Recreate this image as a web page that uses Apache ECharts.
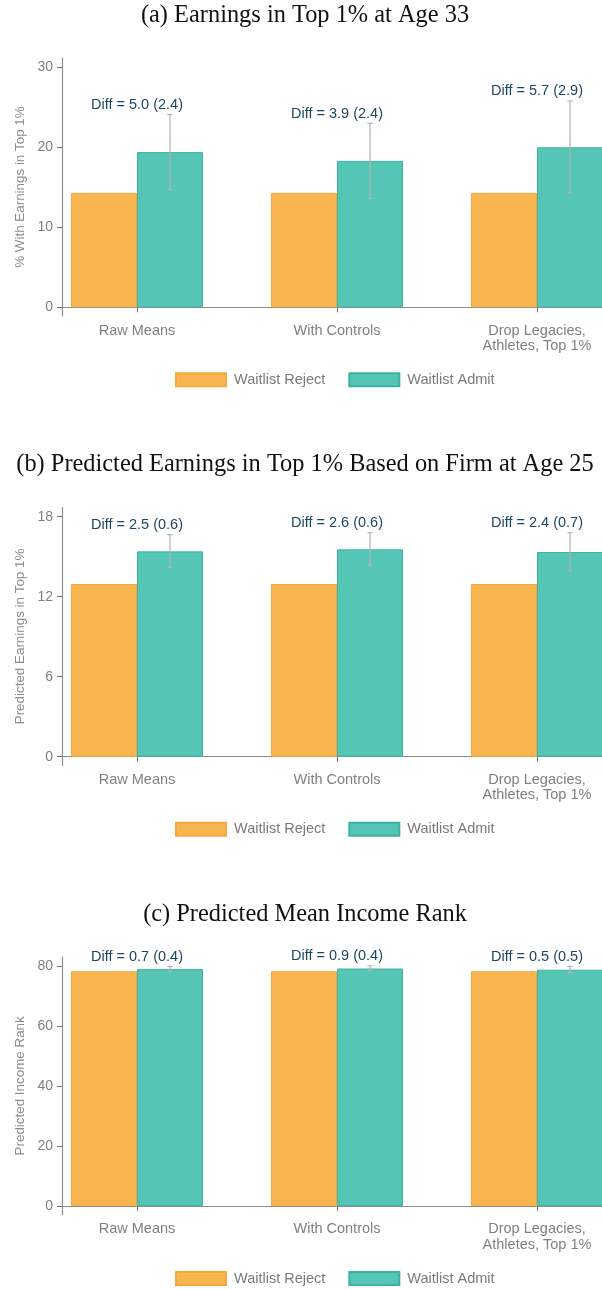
<!DOCTYPE html>
<html>
<head>
<meta charset="utf-8">
<script src="https://cdn.jsdelivr.net/npm/echarts@6/dist/echarts.min.js"></script>
<style>
  html, body { margin: 0; padding: 0; background: #fff; }
  #main { width: 602px; height: 1289px; }
</style>
</head>
<body>
<div id="main"></div>
<script>
// data
var categories = ['Raw Means', 'With Controls', 'Drop Legacies,\nAthletes, Top 1%'];
var groupNames = ['Waitlist Reject', 'Waitlist Admit'];
var panelTitles = [
  '(a) Earnings in Top 1% at Age 33',
  '(b) Predicted Earnings in Top 1% Based on Firm at Age 25',
  '(c) Predicted Mean Income Rank'
];
var yNames = ['% With Earnings in Top 1%', 'Predicted Earnings in Top 1%', 'Predicted Income Rank'];
var yTicks = [[0, 10, 20, 30], [0, 6, 12, 18], [0, 20, 40, 60, 80]];

// (a)
var rejectA = [14.3, 14.3, 14.3];
var admitA = [19.4, 18.3, 20.0];
var ciLowA = [14.7, 13.6, 14.3];
var ciHighA = [24.1, 23.0, 25.8];
var diffA = ['Diff = 5.0 (2.4)', 'Diff = 3.9 (2.4)', 'Diff = 5.7 (2.9)'];
// (b)
var rejectB = [12.95, 12.95, 12.95];
var admitB = [15.4, 15.55, 15.35];
var ciLowB = [14.2, 14.35, 13.95];
var ciHighB = [16.65, 16.8, 16.8];
var diffB = ['Diff = 2.5 (0.6)', 'Diff = 2.6 (0.6)', 'Diff = 2.4 (0.7)'];
// (c)
var rejectC = [78.3, 78.3, 78.3];
var admitC = [79.0, 79.2, 78.8];
var ciLowC = [78.3, 78.5, 77.8];
var ciHighC = [79.9, 80.1, 79.9];
var diffC = ['Diff = 0.7 (0.4)', 'Diff = 0.9 (0.4)', 'Diff = 0.5 (0.5)'];

var rejects = [rejectA, rejectB, rejectC];
var admits = [admitA, admitB, admitC];
var ciLows = [ciLowA, ciLowB, ciLowC];
var ciHighs = [ciHighA, ciHighB, ciHighC];
var diffs = [diffA, diffB, diffC];

// layout
var PANEL_H = 449.4;
var BAR_W = 66;
var PLOT_H = 240;          // zero line to top tick
var PAD_TOP = 9, PAD_BOT = 8.5;
var FONT = '"Liberation Sans", Arial, Helvetica, sans-serif';
var ORANGE = '#f9b550', ORANGE_B = '#f5a93a';
var TEAL = '#55c5b6', TEAL_B = '#3bb3a1';
var GREY = '#808080';

var myChart = echarts.init(document.getElementById('main'), null, {renderer: 'canvas'});

var titles = [], grids = [], xAxes = [], yAxes = [], legends = [], series = [];

function xyPairs(vals) {
  return vals.map(function (v, i) { return [i + 1, v]; });
}

function errRender(k) {
  return function (params, api) {
    var i = params.dataIndex;
    var x = api.value(0);
    var top = api.coord([x, api.value(2)]);
    var bot = api.coord([x, api.value(1)]);
    var ex = top[0] + BAR_W / 2;
    var cap = 2.7;
    var st = {stroke: '#b3b3b3', lineWidth: 1.2};
    return {
      type: 'group',
      children: [
        {type: 'line', shape: {x1: ex, y1: top[1], x2: ex, y2: bot[1]}, style: st},
        {type: 'line', shape: {x1: ex - cap, y1: top[1], x2: ex + cap, y2: top[1]}, style: st},
        {type: 'line', shape: {x1: ex - cap, y1: bot[1], x2: ex + cap, y2: bot[1]}, style: st},
        {type: 'text', x: top[0], y: top[1] - 9.5,
          style: {text: diffs[k][i], fill: '#1d4760', font: '14.5px ' + FONT,
            align: 'center', verticalAlign: 'middle'}}
      ]
    };
  };
}

for (var k = 0; k < 3; k++) {
  var off = PANEL_H * k;
  var ticks = yTicks[k];
  var topVal = ticks[ticks.length - 1];
  var ppu = PLOT_H / topVal;

  titles.push({
    text: panelTitles[k],
    left: 300, textAlign: 'center',
    top: off - 1.5,
    textStyle: {fontFamily: '"Liberation Serif", "Times New Roman", serif', fontWeight: 'normal', fontSize: 24.4, color: '#111'}
  });

  // 200 px per category, axis runs from x=62 to the right edge
  grids.push({left: 62, right: 0, top: off + 67.3 - PAD_TOP, height: PLOT_H + PAD_TOP + PAD_BOT});

  xAxes.push({
    type: 'value', gridIndex: k, min: 0.625, max: 3.325,
    splitLine: {show: false},
    axisLine: {show: true, lineStyle: {color: '#8c8c8c', width: 1.2}},
    axisTick: {show: true, length: 5, customValues: [1, 2, 3], lineStyle: {color: '#6f6f6f'}},
    axisLabel: {
      customValues: [1, 2, 3], margin: 7, color: GREY, fontSize: 14.5, fontFamily: FONT, lineHeight: 15.5,
      formatter: function (v) { return categories[Math.round(v) - 1]; }
    }
  });

  yAxes.push({
    type: 'value', gridIndex: k,
    min: -PAD_BOT / ppu, max: topVal + PAD_TOP / ppu,
    name: yNames[k], nameLocation: 'middle', nameGap: 34,
    nameTextStyle: {color: '#8c8c8c', fontSize: 13.4, fontFamily: FONT},
    splitLine: {show: false},
    axisLine: {show: true, lineStyle: {color: '#8c8c8c', width: 1.2}},
    axisTick: {show: true, length: 5, customValues: ticks, lineStyle: {color: '#6f6f6f'}},
    axisLabel: {customValues: ticks, margin: 9, color: GREY, fontSize: 14, fontFamily: FONT}
  });

  legends.push({
    data: groupNames, left: 175, top: off + 372.3, padding: 0,
    itemWidth: 50, itemHeight: 13, itemGap: 23, icon: 'rect',
    textStyle: {color: '#7a7a7a', fontSize: 14.5, fontFamily: FONT, padding: [0, 0, 0, 3]}
  });

  series.push({
    name: groupNames[0], type: 'bar', xAxisIndex: k, yAxisIndex: k,
    barWidth: BAR_W, barGap: '0%',
    itemStyle: {color: ORANGE, borderColor: ORANGE_B, borderWidth: 1},
    data: xyPairs(rejects[k])
  });
  series.push({
    name: groupNames[1], type: 'bar', xAxisIndex: k, yAxisIndex: k,
    barWidth: BAR_W, barGap: '0%',
    itemStyle: {color: TEAL, borderColor: TEAL_B, borderWidth: 1},
    data: xyPairs(admits[k])
  });
  series.push({
    name: 'ci' + k, type: 'custom', xAxisIndex: k, yAxisIndex: k,
    renderItem: errRender(k), clip: false, z: 5,
    encode: {x: 0, y: [1, 2]},
    data: ciLows[k].map(function (lo, i) { return [i + 1, lo, ciHighs[k][i]]; })
  });
}

var option = {
  animation: false,
  backgroundColor: '#fff',
  title: titles,
  grid: grids,
  xAxis: xAxes,
  yAxis: yAxes,
  legend: legends,
  series: series
};

myChart.setOption(option);
</script>
</body>
</html>
